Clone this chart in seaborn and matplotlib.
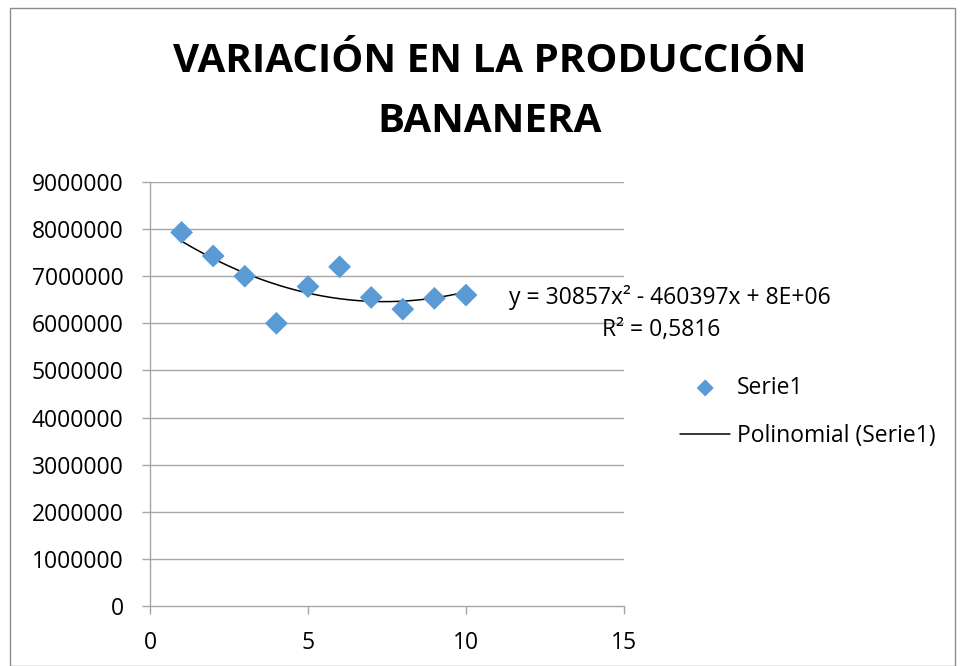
import numpy as np
import pandas as pd
import seaborn as sns
import matplotlib.pyplot as plt
from matplotlib.patches import Rectangle

# Data
years = [1, 2, 3, 4, 5, 6, 7, 8, 9, 10]
production = [7930000, 7430000, 7000000, 6000000, 6780000,
              7200000, 6550000, 6300000, 6530000, 6600000]
x_ticks = [0, 5, 10, 15]
y_ticks = [0, 1000000, 2000000, 3000000, 4000000, 5000000,
           6000000, 7000000, 8000000, 9000000]

title = "VARIACIÓN EN LA PRODUCCIÓN\nBANANERA"
equation = "y = 30857x² - 460397x + 8E+06"
r2_text = "R² = 0,5816"

sns.set_theme(style="white")
plt.rcParams['font.family'] = ['Open Sans', 'DejaVu Sans']
plt.rcParams['text.color'] = 'black'

df = pd.DataFrame({"x": years, "y": production})

fig = plt.figure(figsize=(9.63, 6.66), dpi=100)
ax = fig.add_axes([150 / 963, 1 - 606 / 666, 474 / 963, 424 / 666])

grid_color = "#a6a6a6"
for yv in y_ticks[1:]:
    ax.axhline(yv, color=grid_color, lw=1.0, zorder=0)

sns.scatterplot(data=df, x="x", y="y", marker="D", s=135, color="#5b9bd5",
                edgecolor="none", ax=ax, zorder=3, label="Serie1")

# polynomial trendline (order 2) fitted to the data
coef = np.polyfit(df["x"], df["y"], 2)
xs = np.linspace(min(years), max(years), 200)
ax.plot(xs, np.polyval(coef, xs), color="black", lw=1.1, zorder=2,
        label="Polinomial (Serie1)")

ax.set_xlim(0, 15)
ax.set_ylim(0, 9000000)
ax.set_xticks(x_ticks)
ax.set_yticks(y_ticks)
ax.set_xticklabels([str(v) for v in x_ticks])
ax.set_yticklabels([str(v) for v in y_ticks])
ax.set_xlabel("")
ax.set_ylabel("")

for side in ["top", "right"]:
    ax.spines[side].set_visible(False)
for side in ["left", "bottom"]:
    ax.spines[side].set_color(grid_color)
    ax.spines[side].set_linewidth(1.0)
ax.tick_params(axis="both", which="both", length=6, width=1.0,
               color=grid_color, labelsize=16.5, labelcolor="black",
               direction="out", bottom=True, left=True)
ax.tick_params(axis="y", pad=13)
ax.tick_params(axis="x", pad=12)

fig.suptitle(title, x=490 / 963, y=1 - 42 / 666, fontsize=29,
             fontweight="bold", linespacing=1.7, va="top", color="black")

fig.text(670 / 963, 1 - 297 / 666, equation, ha="center", va="center",
         fontsize=16.5)
fig.text(661 / 963, 1 - 330 / 666, r2_text, ha="center", va="center",
         fontsize=16.5)

ax.legend(loc="center left", bbox_to_anchor=(680 / 963, 1 - 412 / 666),
          bbox_transform=fig.transFigure, frameon=False, fontsize=16.5,
          handlelength=2.2, handletextpad=0.3, labelspacing=1.05,
          borderpad=0, borderaxespad=0, markerscale=0.75)

fig.patches.append(Rectangle((10 / 963, 0), 945 / 963, 1 - 8 / 666,
                             transform=fig.transFigure, fill=False,
                             edgecolor="#8c8c8c", lw=1.0))

fig.savefig("out.png", dpi=100)
